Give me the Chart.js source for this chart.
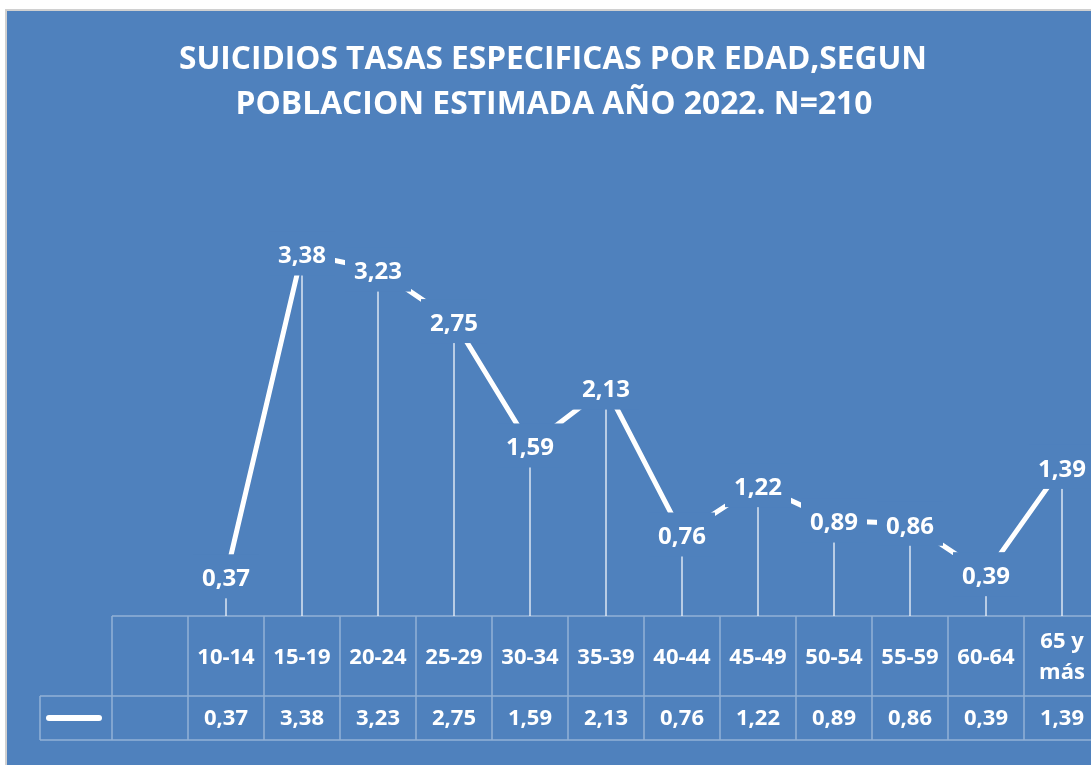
<!DOCTYPE html>
<html lang="es">
<head>
<meta charset="UTF-8">
<title>Suicidios tasas especificas por edad 2022</title>
<script src="https://cdn.jsdelivr.net/npm/chart.js"></script>
<style>
    html, body {
        margin: 0;
        padding: 0;
        background: #fff;
        overflow: hidden;
    }
    .frame {
        position: absolute;
        left: 0;
        top: 0;
        width: 1110px;
        height: 765px;
    }
</style>
</head>
<body>
<div class="frame"><canvas id="chart" width="1110" height="765"></canvas></div>
<script>
const ageGroups = ["10-14", "15-19", "20-24", "25-29", "30-34", "35-39", "40-44", "45-49", "50-54", "55-59", "60-64", ["65 y", "más"]];
const rates = [0.37, 3.38, 3.23, 2.75, 1.59, 2.13, 0.76, 1.22, 0.89, 0.86, 0.39, 1.39];
const rateLabels = ["0,37", "3,38", "3,23", "2,75", "1,59", "2,13", "0,76", "1,22", "0,89", "0,86", "0,39", "1,39"];
const titleLines = ["SUICIDIOS TASAS ESPECIFICAS POR EDAD,SEGUN", "POBLACION ESTIMADA AÑO 2022. N=210"];

const BLUE = "#4f81bd";
const TABLE_LINE = "rgba(255,255,255,0.38)";
const FONT = "'Open Sans', 'Liberation Sans', sans-serif";

// draws text squeezed to a given width (the original uses a narrow font)
function fitText(ctx, text, cx, cy, width) {
    const w = ctx.measureText(text).width;
    ctx.save();
    ctx.translate(cx, cy);
    ctx.scale(width / w, 1);
    ctx.fillText(text, 0, 0);
    ctx.restore();
}

const excelLook = {
    id: "excelLook",
    beforeDraw(chart) {
        const ctx = chart.ctx;
        ctx.save();
        ctx.fillStyle = "#fff";
        ctx.fillRect(0, 0, chart.width, chart.height);
        ctx.fillStyle = "#d0d0d0";
        ctx.fillRect(5, 9, chart.width, chart.height);
        ctx.fillStyle = BLUE;
        ctx.fillRect(7, 11, chart.width, chart.height);

        // title
        ctx.fillStyle = "#fff";
        ctx.textAlign = "center";
        ctx.textBaseline = "middle";
        ctx.font = "bold 32px " + FONT;
        fitText(ctx, titleLines[0], 553, 60, 748);
        fitText(ctx, titleLines[1], 554, 105, 637);
        ctx.restore();
    },
    beforeDatasetsDraw(chart) {
        // drop lines from each point down to the axis
        const ctx = chart.ctx;
        const meta = chart.getDatasetMeta(0);
        const bottom = chart.chartArea.bottom;
        ctx.save();
        ctx.strokeStyle = "rgba(255,255,255,0.6)";
        ctx.lineWidth = 2;
        meta.data.forEach(pt => {
            ctx.beginPath();
            ctx.moveTo(pt.x, pt.y);
            ctx.lineTo(pt.x, bottom);
            ctx.stroke();
        });
        ctx.restore();
    },
    afterDatasetsDraw(chart) {
        const ctx = chart.ctx;
        const meta = chart.getDatasetMeta(0);
        const xScale = chart.scales.x;
        const area = chart.chartArea;
        ctx.save();

        // data labels with a filled box, hiding the line under them
        ctx.font = "bold 24px " + FONT;
        ctx.textAlign = "center";
        ctx.textBaseline = "middle";
        meta.data.forEach((pt, i) => {
            ctx.fillStyle = BLUE;
            ctx.fillRect(pt.x - 33, pt.y - 22, 66, 44);
            ctx.fillStyle = "#fff";
            ctx.fillText(rateLabels[i], pt.x, pt.y + 3);
        });

        // data table under the plot
        const step = xScale.getPixelForValue(1) - xScale.getPixelForValue(0);
        const firstLeft = xScale.getPixelForValue(0) - step / 2;
        const blankLeft = firstLeft - step;
        const keyLeft = 40;
        const right = area.right;
        const top = area.bottom;
        const mid = top + 80;
        const bot = top + 124;

        ctx.strokeStyle = TABLE_LINE;
        ctx.lineWidth = 1.5;
        ctx.beginPath();
        ctx.moveTo(blankLeft, top); ctx.lineTo(right, top);
        ctx.moveTo(keyLeft, mid); ctx.lineTo(right, mid);
        ctx.moveTo(keyLeft, bot); ctx.lineTo(right, bot);
        ctx.moveTo(keyLeft, mid); ctx.lineTo(keyLeft, bot);
        ctx.moveTo(blankLeft, top); ctx.lineTo(blankLeft, bot);
        for (let i = 0; i <= ageGroups.length; i++) {
            const x = firstLeft + i * step;
            ctx.moveTo(x, top); ctx.lineTo(x, bot);
        }
        ctx.stroke();

        // legend key
        ctx.strokeStyle = "#fff";
        ctx.lineWidth = 6;
        ctx.lineCap = "round";
        ctx.beginPath();
        ctx.moveTo(49, (mid + bot) / 2);
        ctx.lineTo(99, (mid + bot) / 2);
        ctx.stroke();

        ctx.fillStyle = "#fff";
        ctx.font = "bold 22px " + FONT;
        ageGroups.forEach((g, i) => {
            const cx = xScale.getPixelForValue(i);
            if (Array.isArray(g)) {
                ctx.fillText(g[0], cx, top + 26);
                ctx.fillText(g[1], cx, top + 57);
            } else {
                ctx.fillText(g, cx, top + 42);
            }
            ctx.fillText(rateLabels[i], cx, (mid + bot) / 2 + 1);
        });
        ctx.restore();
    }
};

new Chart(document.getElementById("chart"), {
    type: "line",
    data: {
        labels: ageGroups,
        datasets: [{
            label: "Tasa",
            data: rates,
            borderColor: "#fff",
            borderWidth: 5,
            pointRadius: 0,
            tension: 0
        }]
    },
    options: {
        responsive: false,
        animation: false,
        layout: { padding: { left: 188, right: 10, top: 187, bottom: 149 } },
        scales: {
            x: { display: false, offset: true },
            y: { display: false, min: 0, max: 4 }
        },
        plugins: {
            legend: { display: false },
            title: { display: false },
            tooltip: { enabled: false }
        }
    },
    plugins: [excelLook]
});
</script>
</body>
</html>
